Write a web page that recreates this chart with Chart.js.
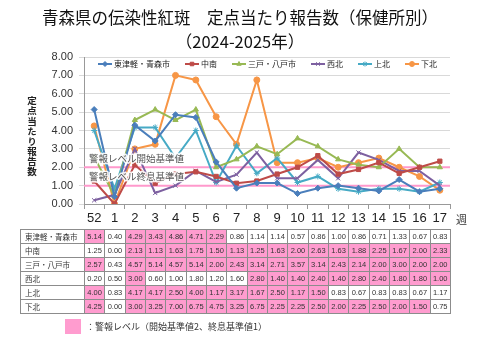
<!DOCTYPE html>
<html>
<head>
<meta charset="utf-8">
<script src="https://cdn.jsdelivr.net/npm/chart.js@4/dist/chart.umd.min.js"></script>
<style>
body { margin: 0; background: #fff; font-family: "Noto Sans CJK JP", sans-serif; }
#wrap { position: relative; width: 480px; height: 360px; overflow: hidden; }
#c { position: absolute; left: 0; top: 0; }
.title { position: absolute; left: 0; width: 480px; text-align: center; font-size: 16.5px; line-height: 1; color: #111; }
#ytitle { position: absolute; left: 25px; top: 96px; writing-mode: vertical-rl; font-size: 9.5px; font-weight: bold; letter-spacing: 0.6px; color: #222; }
#week { position: absolute; left: 456px; top: 211px; font-size: 11px; color: #333; }
#tbl { position: absolute; top: 229px; border-collapse: collapse; table-layout: fixed; }
#tbl td { height: 13px; padding: 0; border: 1px solid #8c8c8c; text-align: center; font-family: "Liberation Sans Narrow", "Liberation Sans", sans-serif; font-size: 7.5px; color: #333; overflow: hidden; white-space: nowrap; }
#tbl td.name { text-align: left; padding-left: 4px; font-family: "Noto Sans CJK JP", sans-serif; font-size: 7.5px; }
#tbl td.on { background: #ff9ccf; }
#key { position: absolute; left: 65px; top: 319px; width: 16px; height: 15px; background: #ff9ccf; }
#keytxt { position: absolute; left: 86px; top: 320px; font-size: 9px; color: #333; }
</style>
</head>
<body>
<div id="wrap">
  <canvas id="c" width="480" height="360"></canvas>
  <div class="title" style="top:9px">青森県の伝染性紅斑　定点当たり報告数（保健所別）</div>
  <div class="title" style="top:33px">（2024-2025年）</div>
  <div id="ytitle">定点当たり報告数</div>
  <div id="week">週</div>
  <table id="tbl"></table>
  <div id="key"></div>
  <div id="keytxt">：警報レベル（開始基準値2、終息基準値1）</div>
</div>
<script>
// weeks 52 (2024) to 17 (2025)
const weeks = ['52', '1', '2', '3', '4', '5', '6', '7', '8', '9', '10', '11', '12', '13', '14', '15', '16', '17'];
const areas = ['東津軽・青森市', '中南', '三戸・八戸市', '西北', '上北', '下北'];

const higashitsugaru = [5.14, 0.40, 4.29, 3.43, 4.86, 4.71, 2.29, 0.86, 1.14, 1.14, 0.57, 0.86, 1.00, 0.86, 0.71, 1.33, 0.67, 0.83];
const chunan = [1.25, 0.00, 2.13, 1.13, 1.63, 1.75, 1.50, 1.13, 1.25, 1.63, 2.00, 2.63, 1.63, 1.88, 2.25, 1.67, 2.00, 2.33];
const sannohe = [2.57, 0.43, 4.57, 5.14, 4.57, 5.14, 2.00, 2.43, 3.14, 2.71, 3.57, 3.14, 2.43, 2.14, 2.00, 3.00, 2.00, 2.00];
const seihoku = [0.20, 0.50, 3.00, 0.60, 1.00, 1.80, 1.20, 1.60, 2.80, 1.40, 1.40, 2.40, 1.40, 2.80, 2.40, 1.80, 1.80, 1.00];
const kamikita = [4.00, 0.83, 4.17, 4.17, 2.50, 4.00, 1.17, 3.17, 1.67, 2.50, 1.17, 1.50, 0.83, 0.67, 0.83, 0.83, 0.67, 1.17];
const shimokita = [4.25, 0.00, 3.00, 3.25, 7.00, 6.75, 4.75, 3.25, 6.75, 2.25, 2.25, 2.50, 2.00, 2.25, 2.50, 2.00, 1.50, 0.75];

// pink cells in the table (alert level)
const higashitsugaruAlert = [1, 0, 1, 1, 1, 1, 1, 0, 0, 0, 0, 0, 0, 0, 0, 0, 0, 0];
const chunanAlert = [0, 0, 1, 1, 1, 1, 1, 1, 1, 1, 1, 1, 1, 1, 1, 1, 1, 1];
const sannoheAlert = [1, 0, 1, 1, 1, 1, 1, 1, 1, 1, 1, 1, 1, 1, 1, 1, 1, 1];
const seihokuAlert = [0, 0, 1, 0, 0, 0, 0, 0, 1, 1, 1, 1, 1, 1, 1, 1, 1, 1];
const kamikitaAlert = [1, 0, 1, 1, 1, 1, 1, 1, 1, 1, 1, 1, 0, 0, 0, 0, 0, 0];
const shimokitaAlert = [1, 0, 1, 1, 1, 1, 1, 1, 1, 1, 1, 1, 1, 1, 1, 1, 1, 0];

const yTicks = [0, 1, 2, 3, 4, 5, 6, 7, 8];
const alertStart = 2;
const alertEnd = 1;
const alertStartLabel = '警報レベル開始基準値';
const alertEndLabel = '警報レベル終息基準値';

const series = [higashitsugaru, chunan, sannohe, seihoku, kamikita, shimokita];
const alerts = [higashitsugaruAlert, chunanAlert, sannoheAlert, seihokuAlert, kamikitaAlert, shimokitaAlert];
const colors = ['#4a7ebb', '#be4b48', '#98b954', '#7d60a0', '#46aac5', '#f79646'];
const markers = ['rectRot', 'rect', 'triangle', 'crossRot', 'star', 'circle'];

const alertLines = {
  id: 'alertLines',
  beforeDatasetsDraw(chart) {
    const { ctx, chartArea: a, scales: { y } } = chart;
    ctx.save();
    ctx.strokeStyle = '#ff99cc';
    ctx.lineWidth = 2;
    [alertStart, alertEnd].forEach(v => {
      const py = y.getPixelForValue(v);
      ctx.beginPath();
      ctx.moveTo(a.left, py);
      ctx.lineTo(a.right, py);
      ctx.stroke();
    });
    ctx.restore();
  },
  afterDatasetsDraw(chart) {
    const { ctx, chartArea: a, scales: { y } } = chart;
    ctx.save();
    ctx.font = '9.5px "Noto Sans CJK JP"';
    ctx.textBaseline = 'middle';
    ctx.lineJoin = 'round';
    [[alertStart, alertStartLabel], [alertEnd, alertEndLabel]].forEach(([v, txt]) => {
      const py = y.getPixelForValue(v) - 9;
      ctx.strokeStyle = 'rgba(255,255,255,0.9)';
      ctx.lineWidth = 3;
      ctx.strokeText(txt, a.left + 5, py);
      ctx.fillStyle = '#555';
      ctx.fillText(txt, a.left + 5, py);
    });
    ctx.restore();
  }
};

// Excel-like legend: short line with the marker in the middle
const lineLegend = {
  id: 'lineLegend',
  afterDraw(chart) {
    const ctx = chart.ctx;
    const a = chart.chartArea;
    ctx.save();
    ctx.font = '8px "Noto Sans CJK JP"';
    ctx.textBaseline = 'middle';
    let x = a.left + 14;
    const y = a.top + 7;
    chart.data.datasets.forEach(ds => {
      ctx.strokeStyle = ds.borderColor;
      ctx.fillStyle = ds.borderColor;
      ctx.lineWidth = 2;
      ctx.beginPath();
      ctx.moveTo(x, y);
      ctx.lineTo(x + 14, y);
      ctx.stroke();
      ctx.lineWidth = 1;
      Chart.helpers.drawPoint(ctx, { pointStyle: ds.pointStyle, radius: 2.5, rotation: 0, borderWidth: 1 }, x + 7, y);
      ctx.fillStyle = '#222';
      ctx.fillText(ds.label, x + 16, y);
      x += 16 + ctx.measureText(ds.label).width + 15;
    });
    ctx.restore();
  }
};

const chart = new Chart(document.getElementById('c'), {
  type: 'line',
  data: {
    labels: weeks,
    datasets: areas.map((name, i) => ({
      label: name,
      data: series[i],
      borderColor: colors[i],
      backgroundColor: colors[i],
      pointBackgroundColor: colors[i],
      pointBorderColor: colors[i],
      pointStyle: markers[i],
      pointRadius: 3,
      pointBorderWidth: 1,
      borderWidth: 2,
      tension: 0
    }))
  },
  options: {
    responsive: false,
    animation: false,
    layout: { padding: { left: 0, right: 30, top: 57, bottom: 130 } },
    plugins: {
      legend: { display: false },
      tooltip: { enabled: false }
    },
    scales: {
      x: {
        offset: true,
        grid: { drawOnChartArea: false, offset: true, tickLength: 5, color: '#999' },
        border: { color: '#999' },
        ticks: { autoSkip: false, maxRotation: 0, padding: 2, color: '#222', font: { family: 'Liberation Sans', size: 13 } },
        afterFit(s) { s.height = 26; }
      },
      y: {
        min: 0,
        max: 8,
        afterBuildTicks(s) { s.ticks = yTicks.map(v => ({ value: v })); },
        ticks: { padding: 6, color: '#333', font: { family: 'Liberation Sans', size: 11 }, callback: v => v.toFixed(2) },
        grid: { color: '#d9d9d9', tickLength: 5 },
        border: { color: '#999' },
        afterFit(s) { s.width = 84; }
      }
    }
  },
  plugins: [alertLines, lineLegend]
});

// data table lined up with the x scale categories
const xs = chart.scales.x;
const colW = (xs.right - xs.left) / weeks.length;
const tableLeft = 20;
const tbl = document.getElementById('tbl');
tbl.style.left = tableLeft + 'px';
const cg = document.createElement('colgroup');
const nameCol = document.createElement('col');
nameCol.style.width = (xs.left - tableLeft) + 'px';
cg.appendChild(nameCol);
weeks.forEach(() => {
  const c = document.createElement('col');
  c.style.width = colW + 'px';
  cg.appendChild(c);
});
tbl.appendChild(cg);
tbl.style.width = (xs.right - tableLeft) + 'px';
areas.forEach((name, i) => {
  const tr = document.createElement('tr');
  const th = document.createElement('td');
  th.className = 'name';
  th.textContent = name;
  tr.appendChild(th);
  series[i].forEach((v, j) => {
    const td = document.createElement('td');
    td.textContent = v.toFixed(2);
    if (alerts[i][j]) td.className = 'on';
    tr.appendChild(td);
  });
  tbl.appendChild(tr);
});
</script>
</body>
</html>
